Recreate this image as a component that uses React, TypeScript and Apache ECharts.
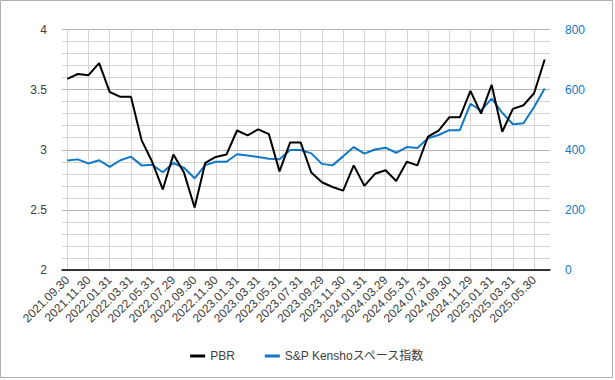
import React, { useEffect, useRef } from "react";
import * as echarts from "echarts";

const dates: string[] = [
  "2021.09.30", "2021.10.29", "2021.11.30", "2021.12.31",
  "2022.01.31", "2022.02.28", "2022.03.31", "2022.04.29", "2022.05.31", "2022.06.30",
  "2022.07.29", "2022.08.31", "2022.09.30", "2022.10.31", "2022.11.30", "2022.12.30",
  "2023.01.31", "2023.02.28", "2023.03.31", "2023.04.28", "2023.05.31", "2023.06.30",
  "2023.07.31", "2023.08.31", "2023.09.29", "2023.10.31", "2023.11.30", "2023.12.29",
  "2024.01.31", "2024.02.29", "2024.03.29", "2024.04.30", "2024.05.31", "2024.06.28",
  "2024.07.31", "2024.08.30", "2024.09.30", "2024.10.31", "2024.11.29", "2024.12.31",
  "2025.01.31", "2025.02.28", "2025.03.31", "2025.04.30", "2025.05.30", "2025.06.30",
];

const pbr: number[] = [
  3.59, 3.63, 3.62, 3.72,
  3.48, 3.44, 3.44, 3.08, 2.9, 2.67,
  2.96, 2.81, 2.52, 2.89, 2.94, 2.96,
  3.16, 3.12, 3.17, 3.13, 2.82, 3.06,
  3.06, 2.81, 2.73, 2.69, 2.66, 2.87,
  2.7, 2.8, 2.83, 2.74, 2.9, 2.87,
  3.11, 3.16, 3.27, 3.27, 3.49, 3.3,
  3.54, 3.15, 3.34, 3.37, 3.47, 3.75,
];

const spaceIndex: number[] = [
  364, 368, 354, 365,
  343, 365, 377, 348, 350, 325,
  356, 340, 305, 349, 360, 360,
  385, 381, 376, 370, 368, 399,
  399, 388, 353, 348, 378, 409,
  387, 401, 407, 390, 409, 406,
  438, 449, 465, 465, 553, 530,
  570, 523, 485, 488, 542, 604,
];

const seriesNames: string[] = ["PBR", "S&P Kenshoスペース指数"];

const FONT = "'Liberation Sans', Arial, 'Noto Sans CJK JP', sans-serif";
const BLUE = "#0F78C8";

export default function App() {
  const ref = useRef<HTMLDivElement>(null);

  useEffect(() => {
    if (!ref.current) return;
    const chart = echarts.init(ref.current, null, { renderer: "svg" });
    chart.setOption({
      animation: false,
      backgroundColor: "#ffffff",
      textStyle: { fontFamily: FONT },
      grid: { left: 62, right: 65, top: 29.5, bottom: 110, containLabel: false },
      graphic: [
        {
          type: "rect",
          shape: { x: 0.5, y: 0.5, width: 612, height: 377 },
          style: { fill: "none", stroke: "#b0b0b0", lineWidth: 1 },
          silent: true,
        },
      ],
      legend: {
        bottom: 13,
        left: "center",
        icon: "rect",
        itemWidth: 15,
        itemHeight: 3,
        itemGap: 30,
        textStyle: { fontFamily: FONT, fontSize: 12, color: "#404040" },
        data: seriesNames,
      },
      xAxis: {
        type: "category",
        data: dates,
        boundaryGap: true,
        axisLine: { show: true, lineStyle: { color: "#000000", width: 1.5 } },
        axisTick: { show: false },
        axisLabel: {
          interval: 1,
          rotate: 45,
          margin: 8,
          fontSize: 12,
          color: "#404040",
          fontFamily: FONT,
        },
        splitLine: {
          show: true,
          interval: 1,
          alignWithLabel: true,
          lineStyle: { color: "#d4d4d4", width: 1 },
        },
      },
      yAxis: [
        {
          type: "value",
          min: 2,
          max: 4,
          interval: 0.5,
          axisLine: { show: false },
          axisTick: { show: false },
          axisLabel: { margin: 15, fontSize: 12, color: "#404040", fontFamily: FONT },
          splitLine: { show: true, lineStyle: { color: "#b4b4b4", width: 1 } },
          minorTick: { show: false, splitNumber: 5 },
          minorSplitLine: { show: true, lineStyle: { color: "#d4d4d4", width: 1 } },
        },
        {
          type: "value",
          min: 0,
          max: 800,
          interval: 200,
          position: "right",
          axisLine: { show: false },
          axisTick: { show: false },
          axisLabel: { margin: 15, fontSize: 12, color: BLUE, fontFamily: FONT },
          splitLine: { show: false },
        },
      ],
      series: [
        {
          name: seriesNames[0],
          type: "line",
          data: pbr,
          yAxisIndex: 0,
          symbol: "none",
          lineStyle: { color: "#000000", width: 2 },
          itemStyle: { color: "#000000" },
          z: 3,
        },
        {
          name: seriesNames[1],
          type: "line",
          data: spaceIndex,
          yAxisIndex: 1,
          symbol: "none",
          lineStyle: { color: BLUE, width: 2 },
          itemStyle: { color: BLUE },
          z: 2,
        },
      ],
    });
    return () => chart.dispose();
  }, []);

  return (
    <div
      ref={ref}
      style={{ position: "absolute", left: 0, top: 0, width: 615, height: 380 }}
    />
  );
}
